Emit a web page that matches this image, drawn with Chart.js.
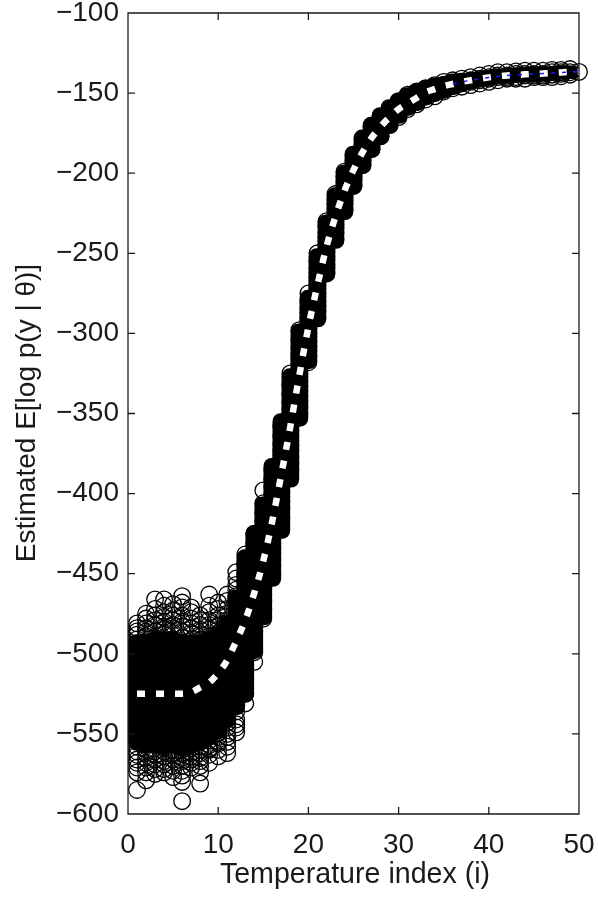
<!DOCTYPE html>
<html>
<head>
<meta charset="utf-8">
<title>Estimated E[log p(y | θ)]</title>
<script src="https://cdn.jsdelivr.net/npm/chart.js@4"></script>
<style>
html, body { margin: 0; padding: 0; background: #fff; }
canvas { display: block; }
</style>
</head>
<body>
<canvas id="chart" width="598" height="898"></canvas>
<script>
var xTicks = [0, 10, 20, 30, 40, 50];
var yTicks = [-100, -150, -200, -250, -300, -350, -400, -450, -500, -550, -600];

// E[log p] per temperature index
var meanCurve = [-525, -525, -525, -525, -525, -525, -524, -521, -518, -512,
    -504, -492, -479, -462, -442, -417, -388, -358, -326, -296,
    -270, -246, -227, -211, -198, -187, -178, -171, -165, -160,
    -156.5, -153, -149.5, -147.5, -145.6, -144.3, -143, -142, -141, -140.2,
    -139.5, -139, -138.7, -138.3, -138, -137.8, -137.5, -137.1, -136.8, -136.6];

// the blue line only shows through at the far right
var blueIndex = [36, 37, 38, 39, 40, 41, 42, 43, 44, 45, 46, 47, 48, 49, 50];
var blueCurve = [-144.3, -143, -142, -141, -140.2, -139.5, -139, -138.7, -138.3, -138, -137.8, -137.5, -137.1, -136.8, -136.6];

// where the samples pile up so thick that they read as solid black, per index
var denseTop = [-488, -488, -486, -486, -486, -488, -488, -488, -486, -483,
    -476, -460, -435, -420, -402, -378, -350, -322, -294, -273,
    -247, -226, -209, -195, -183, -173, -165, -159, -154, -150,
    -146.5, -144, -142, -140.5, -139.5, -138, -137.5, -137, -136.5, -136,
    -135, -134.5, -134, -134, -133.5, -133.5, -133.5, -133, -133];
var denseBottom = [-560, -562, -562, -563, -562, -564, -562, -560, -557, -553,
    -546, -538, -530, -503, -482, -458, -428, -396, -358, -322,
    -296, -268, -247, -229, -213, -200, -190, -182, -175, -169,
    -164, -161, -157.5, -155, -153, -151, -149, -147.5, -146, -145,
    -144, -143.5, -143.5, -143, -143, -142.5, -142, -141.5, -141];

// samples per temperature index (index 1 first)
var samples = [
    [-481, -488, -491, -494, -497, -500, -502, -505, -508, -511, -513, -516, -519, -522, -524, -527, -530, -532, -535, -538, -541, -543, -546, -549, -552, -555, -558, -563, -568, -574, -585],
    [-475, -484, -489, -493, -496, -499, -503, -506, -509, -512, -514, -517, -520, -523, -526, -529, -531, -534, -537, -540, -542, -545, -548, -551, -553, -556, -560, -565, -571, -579],
    [-466, -479, -486, -490, -495, -498, -501, -504, -507, -510, -513, -515, -518, -521, -525, -528, -530, -533, -536, -539, -541, -544, -547, -550, -554, -557, -561, -566, -572],
    [-466, -477, -483, -488, -492, -496, -499, -502, -505, -509, -511, -514, -517, -520, -523, -526, -529, -532, -535, -537, -540, -543, -546, -549, -552, -555, -559, -564, -569, -574],
    [-473, -482, -487, -491, -494, -497, -500, -503, -506, -508, -512, -515, -518, -521, -524, -527, -530, -533, -536, -538, -541, -544, -547, -550, -553, -556, -560, -563, -570, -577],
    [-464, -468, -480, -486, -490, -493, -497, -500, -504, -507, -510, -513, -516, -519, -522, -525, -528, -531, -534, -537, -539, -542, -545, -548, -551, -554, -558, -562, -567, -573, -580, -592],
    [-471, -481, -487, -492, -495, -498, -501, -504, -507, -510, -512, -515, -518, -521, -524, -526, -529, -532, -535, -538, -541, -544, -547, -550, -553, -556, -559, -564, -568],
    [-482, -488, -491, -495, -498, -501, -503, -506, -509, -512, -515, -517, -520, -523, -526, -528, -531, -534, -537, -540, -543, -546, -549, -552, -555, -558, -562, -570, -581],
    [-463, -479, -485, -489, -493, -496, -499, -502, -505, -508, -511, -514, -516, -519, -522, -525, -528, -531, -533, -536, -539, -542, -545, -548, -551, -554, -557, -560],
    [-476, -483, -487, -491, -494, -497, -500, -503, -506, -508, -511, -514, -517, -520, -523, -526, -529, -532, -534, -537, -540, -543, -546, -549, -552, -556, -564],
    [-463, -472, -479, -484, -488, -491, -494, -497, -500, -503, -506, -509, -511, -514, -517, -520, -523, -526, -529, -531, -534, -537, -540, -543, -546, -550, -555, -562],
    [-449, -457, -464, -470, -475, -479, -483, -487, -490, -493, -496, -499, -502, -505, -508, -511, -514, -517, -520, -523, -526, -529, -532, -536, -541, -546],
    [-438, -444, -450, -455, -459, -463, -467, -470, -473, -476, -479, -482, -485, -488, -491, -494, -497, -500, -503, -507, -511, -516, -525, -531],
    [-425, -431, -436, -441, -445, -449, -452, -455, -458, -461, -464, -467, -470, -473, -476, -479, -482, -486, -490, -495, -499, -505],
    [-398, -406, -412, -417, -421, -425, -429, -432, -435, -438, -441, -444, -447, -450, -453, -456, -459, -463, -467, -472, -478],
    [-385, -391, -396, -400, -404, -407, -410, -413, -416, -419, -422, -425, -428, -431, -434, -437, -441, -445, -450],
    [-358, -364, -369, -373, -376, -379, -382, -385, -388, -390, -393, -396, -399, -402, -405, -409, -415],
    [-325, -332, -338, -343, -347, -350, -353, -356, -358, -361, -364, -367, -370, -373, -377, -381, -385],
    [-298, -304, -309, -313, -316, -319, -322, -325, -327, -330, -333, -336, -339, -342, -346, -350],
    [-275, -280, -284, -287, -290, -292, -295, -297, -300, -302, -305, -308, -311, -314, -318],
    [-250, -255, -259, -262, -265, -267, -270, -272, -275, -277, -280, -283, -286, -290],
    [-230, -233, -237, -240, -242, -245, -247, -249, -252, -254, -257, -259, -262],
    [-213, -216, -219, -222, -224, -226, -228, -230, -232, -234, -237, -241],
    [-199, -202, -205, -207, -209, -211, -213, -215, -217, -219, -223],
    [-189, -192, -194, -196, -198, -200, -202, -204, -208],
    [-179, -182, -184, -186, -188, -190, -192, -195],
    [-171, -174, -176, -178, -180, -182, -185],
    [-165, -168, -170, -172, -174, -177],
    [-160, -163, -165, -167, -170],
    [-155, -158, -160, -162, -165],
    [-151, -154, -156, -158, -160],
    [-149, -151, -153, -155, -157],
    [-147, -149, -150, -152, -154],
    [-145, -147, -148, -150, -152],
    [-143, -145, -146, -148, -149],
    [-142, -144, -145, -147],
    [-141, -143, -144, -146],
    [-140, -142, -143, -145],
    [-139, -141, -142, -144],
    [-138, -140, -141, -143],
    [-137, -139, -140, -142],
    [-137, -139, -140, -141],
    [-136.5, -138, -140, -141],
    [-136, -138, -139, -141],
    [-136, -138, -139, -140],
    [-136, -138, -139, -140],
    [-135.5, -137, -138.5, -140],
    [-135.5, -137, -138, -139.5],
    [-135, -137, -138.5],
    [-136.8]
];

// extra rings along the upper and lower fringe of the low temperature cloud
var fringe = [
    [-484, -486, -561, -566, -571],
    [-478, -481, -486, -562, -568, -574],
    [-472, -476, -482, -563, -569, -575],
    [-470, -474, -480, -485, -561, -567, -572],
    [-469, -476, -479, -484, -562, -566, -573],
    [-471, -476, -483, -560, -565, -570, -576],
    [-474, -478, -484, -562, -566, -571],
    [-476, -479, -485, -560, -565, -567, -574],
    [-470, -474, -482, -559, -563, -568],
    [-468, -472, -479, -485, -555, -560],
    [-467, -475, -481, -552, -558],
    [-453, -460, -467, -544, -549]
];

var points = [];
samples.concat(fringe).forEach(function (col, n) {
    var index = n < samples.length ? n + 1 : n - samples.length + 1;
    col.forEach(function (v) { points.push({ x: index, y: v }); });
});
var densePoints = denseTop.map(function (v, i) { return { x: i + 1, y: [denseBottom[i], v] }; });
var meanPoints = meanCurve.map(function (v, i) { return { x: i + 1, y: v }; });
var bluePoints = blueCurve.map(function (v, i) { return { x: blueIndex[i], y: v }; });

function minusLabel(v) {
    return String(v).replace('-', '\u2212');
}

// MATLAB style frame: inward ticks on all four sides, plus the axis titles
var framePlugin = {
    id: 'frame',
    afterDatasetsDraw: function (chart) {
        var c = chart.ctx, a = chart.chartArea, x = chart.scales.x, y = chart.scales.y;
        var len = 7;
        c.save();
        c.strokeStyle = '#1a1a1a';
        c.lineWidth = 1.3;
        c.beginPath();
        c.rect(a.left, a.top, a.right - a.left, a.bottom - a.top);
        xTicks.forEach(function (v) {
            var px = x.getPixelForValue(v);
            c.moveTo(px, a.bottom); c.lineTo(px, a.bottom - len);
            c.moveTo(px, a.top); c.lineTo(px, a.top + len);
        });
        yTicks.forEach(function (v) {
            var py = y.getPixelForValue(v);
            c.moveTo(a.left, py); c.lineTo(a.left + len, py);
            c.moveTo(a.right, py); c.lineTo(a.right - len, py);
        });
        c.stroke();
        c.fillStyle = '#1a1a1a';
        c.textAlign = 'center';
        c.textBaseline = 'alphabetic';
        c.font = '28.6px "Liberation Sans"';
        c.fillText('Temperature index (i)', 355, 883);
        c.translate(35, 413);
        c.rotate(-Math.PI / 2);
        c.font = '28px "Liberation Sans"';
        c.fillText('Estimated E[log p(y | θ)]', 0, 0);
        c.restore();
    }
};

new Chart(document.getElementById('chart'), {
    type: 'scatter',
    data: {
        datasets: [
            {
                label: 'blue',
                type: 'line',
                data: bluePoints,
                order: 1,
                borderColor: '#1a1aff',
                borderWidth: 1.5,
                borderDash: [4, 7],
                pointRadius: 0,
                fill: false
            },
            {
                label: 'mean',
                type: 'line',
                data: meanPoints,
                order: 2,
                borderColor: '#fff',
                borderWidth: 6.5,
                borderDash: [8, 11],
                borderCapStyle: 'butt',
                pointRadius: 0,
                cubicInterpolationMode: 'monotone',
                fill: false
            },
            {
                label: 'samples',
                data: points,
                order: 3,
                clip: false,
                pointStyle: 'circle',
                pointRadius: 8.3,
                pointBorderWidth: 1.3,
                borderColor: '#000',
                pointBorderColor: '#000',
                backgroundColor: 'transparent',
                pointBackgroundColor: 'transparent'
            },
            {
                label: 'dense',
                type: 'bar',
                data: densePoints,
                order: 4,
                backgroundColor: '#000',
                barThickness: 17,
                borderRadius: 8,
                borderSkipped: false
            }
        ]
    },
    options: {
        responsive: false,
        animation: false,
        layout: { padding: { top: 13, right: 19, left: 0, bottom: 0 } },
        plugins: { legend: { display: false }, tooltip: { enabled: false } },
        scales: {
            x: {
                type: 'linear',
                offset: false,
                min: 0,
                max: 50,
                afterFit: function (s) { s.height = 84; s.paddingLeft = 0; s.paddingRight = 0; },
                afterBuildTicks: function (s) { s.ticks = xTicks.map(function (v) { return { value: v }; }); },
                grid: { display: false },
                border: { display: false },
                ticks: { color: '#1a1a1a', font: { family: 'Liberation Sans', size: 28 }, padding: 6, maxRotation: 0 }
            },
            y: {
                type: 'linear',
                min: -600,
                max: -100,
                afterFit: function (s) { s.width = 128; s.paddingTop = 0; s.paddingBottom = 0; },
                afterBuildTicks: function (s) { s.ticks = yTicks.map(function (v) { return { value: v }; }); },
                grid: { display: false },
                border: { display: false },
                ticks: { color: '#1a1a1a', font: { family: 'Liberation Sans', size: 28 }, padding: 1, callback: minusLabel }
            }
        }
    },
    plugins: [framePlugin]
});
</script>
</body>
</html>
